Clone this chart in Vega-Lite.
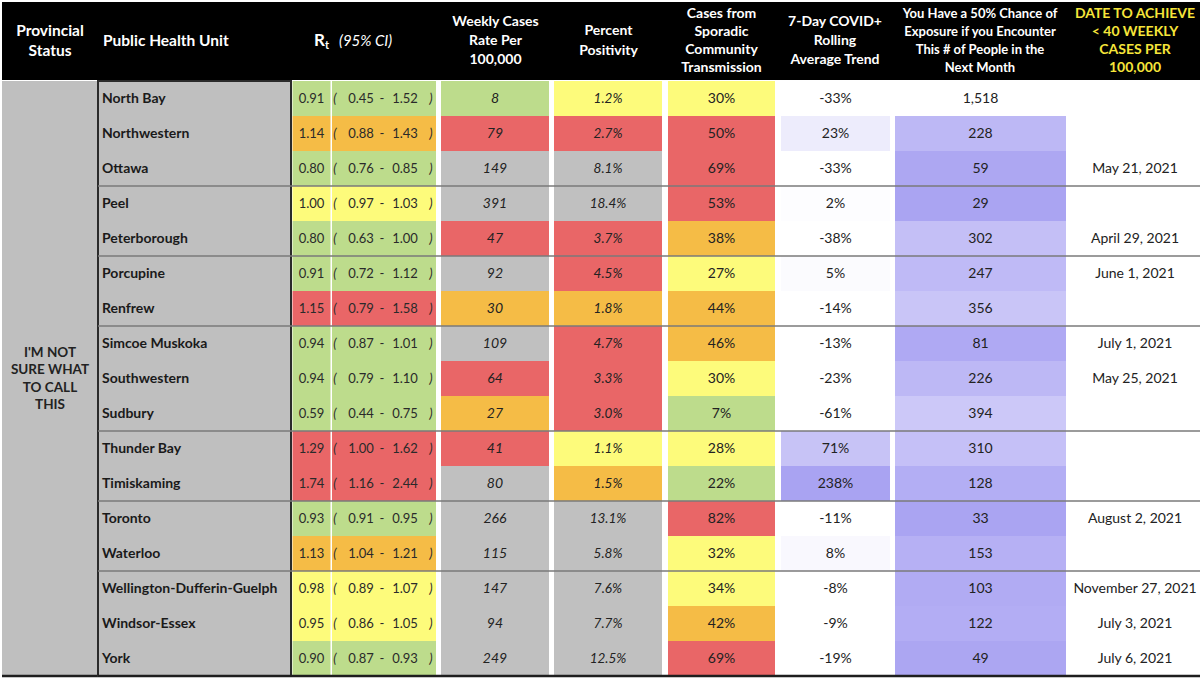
{
  "$schema": "https://vega.github.io/schema/vega-lite/v6.json",
  "padding": {"left": 0, "top": 2, "right": 0, "bottom": 0},
  "background": "#ffffff",
  "spacing": 0,
  "config": {"view": {"stroke": null}, "concat": {"spacing": 0}, "text": {"font": "Lato"},
    "locale": {"number": {"decimal": ".", "thousands": ",", "grouping": [3], "currency": ["$", ""], "minus": "-"}}},
  "data": {"values": [
    {"phu": "North Bay", "status": "I'M NOT\nSURE WHAT\nTO CALL\nTHIS", "grp": 1, "rt": 0.91, "lo": 0.45, "hi": 1.52, "weekly": 8, "pos": 0.012, "spor": 0.30, "trend": -0.33, "exp": 1518, "date": ""},
    {"phu": "Northwestern", "status": "I'M NOT\nSURE WHAT\nTO CALL\nTHIS", "grp": 1, "rt": 1.14, "lo": 0.88, "hi": 1.43, "weekly": 79, "pos": 0.027, "spor": 0.50, "trend": 0.23, "exp": 228, "date": ""},
    {"phu": "Ottawa", "status": "I'M NOT\nSURE WHAT\nTO CALL\nTHIS", "grp": 1, "rt": 0.80, "lo": 0.76, "hi": 0.85, "weekly": 149, "pos": 0.081, "spor": 0.69, "trend": -0.33, "exp": 59, "date": "May 21, 2021"},
    {"phu": "Peel", "status": "I'M NOT\nSURE WHAT\nTO CALL\nTHIS", "grp": 2, "rt": 1.00, "lo": 0.97, "hi": 1.03, "weekly": 391, "pos": 0.184, "spor": 0.53, "trend": 0.02, "exp": 29, "date": ""},
    {"phu": "Peterborough", "status": "I'M NOT\nSURE WHAT\nTO CALL\nTHIS", "grp": 2, "rt": 0.80, "lo": 0.63, "hi": 1.00, "weekly": 47, "pos": 0.037, "spor": 0.38, "trend": -0.38, "exp": 302, "date": "April 29, 2021"},
    {"phu": "Porcupine", "status": "I'M NOT\nSURE WHAT\nTO CALL\nTHIS", "grp": 3, "rt": 0.91, "lo": 0.72, "hi": 1.12, "weekly": 92, "pos": 0.045, "spor": 0.27, "trend": 0.05, "exp": 247, "date": "June 1, 2021"},
    {"phu": "Renfrew", "status": "I'M NOT\nSURE WHAT\nTO CALL\nTHIS", "grp": 3, "rt": 1.15, "lo": 0.79, "hi": 1.58, "weekly": 30, "pos": 0.018, "spor": 0.44, "trend": -0.14, "exp": 356, "date": ""},
    {"phu": "Simcoe Muskoka", "status": "I'M NOT\nSURE WHAT\nTO CALL\nTHIS", "grp": 4, "rt": 0.94, "lo": 0.87, "hi": 1.01, "weekly": 109, "pos": 0.047, "spor": 0.46, "trend": -0.13, "exp": 81, "date": "July 1, 2021"},
    {"phu": "Southwestern", "status": "I'M NOT\nSURE WHAT\nTO CALL\nTHIS", "grp": 4, "rt": 0.94, "lo": 0.79, "hi": 1.10, "weekly": 64, "pos": 0.033, "spor": 0.30, "trend": -0.23, "exp": 226, "date": "May 25, 2021"},
    {"phu": "Sudbury", "status": "I'M NOT\nSURE WHAT\nTO CALL\nTHIS", "grp": 4, "rt": 0.59, "lo": 0.44, "hi": 0.75, "weekly": 27, "pos": 0.030, "spor": 0.07, "trend": -0.61, "exp": 394, "date": ""},
    {"phu": "Thunder Bay", "status": "I'M NOT\nSURE WHAT\nTO CALL\nTHIS", "grp": 5, "rt": 1.29, "lo": 1.00, "hi": 1.62, "weekly": 41, "pos": 0.011, "spor": 0.28, "trend": 0.71, "exp": 310, "date": ""},
    {"phu": "Timiskaming", "status": "I'M NOT\nSURE WHAT\nTO CALL\nTHIS", "grp": 5, "rt": 1.74, "lo": 1.16, "hi": 2.44, "weekly": 80, "pos": 0.015, "spor": 0.22, "trend": 2.38, "exp": 128, "date": ""},
    {"phu": "Toronto", "status": "I'M NOT\nSURE WHAT\nTO CALL\nTHIS", "grp": 6, "rt": 0.93, "lo": 0.91, "hi": 0.95, "weekly": 266, "pos": 0.131, "spor": 0.82, "trend": -0.11, "exp": 33, "date": "August 2, 2021"},
    {"phu": "Waterloo", "status": "I'M NOT\nSURE WHAT\nTO CALL\nTHIS", "grp": 6, "rt": 1.13, "lo": 1.04, "hi": 1.21, "weekly": 115, "pos": 0.058, "spor": 0.32, "trend": 0.08, "exp": 153, "date": ""},
    {"phu": "Wellington-Dufferin-Guelph", "status": "I'M NOT\nSURE WHAT\nTO CALL\nTHIS", "grp": 7, "rt": 0.98, "lo": 0.89, "hi": 1.07, "weekly": 147, "pos": 0.076, "spor": 0.34, "trend": -0.08, "exp": 103, "date": "November 27, 2021"},
    {"phu": "Windsor-Essex", "status": "I'M NOT\nSURE WHAT\nTO CALL\nTHIS", "grp": 7, "rt": 0.95, "lo": 0.86, "hi": 1.05, "weekly": 94, "pos": 0.077, "spor": 0.42, "trend": -0.09, "exp": 122, "date": "July 3, 2021"},
    {"phu": "York", "status": "I'M NOT\nSURE WHAT\nTO CALL\nTHIS", "grp": 7, "rt": 0.90, "lo": 0.87, "hi": 0.93, "weekly": 249, "pos": 0.125, "spor": 0.69, "trend": -0.19, "exp": 49, "date": "July 6, 2021"}
  ]},
  "vconcat": [
    {
      "data": {"values": [{}]},
      "spacing": 0,
      "bounds": "flush",
      "hconcat": [
        {"width": 96, "height": 78, "view": {"fill": "#000000", "stroke": null},
         "mark": {"type": "text", "text": ["Provincial", "Status"], "color": "#ffffff", "fontWeight": "bold", "fontSize": 15.5, "lineHeight": 20, "align": "center", "baseline": "middle", "dy": -10}},
        {"width": 193, "height": 78, "view": {"fill": "#000000", "stroke": null},
         "mark": {"type": "text", "text": "Public Health Unit", "color": "#ffffff", "fontWeight": "bold", "fontSize": 15.5, "align": "left", "baseline": "middle"},
         "encoding": {"x": {"value": 5}}},
        {"width": 148, "height": 78, "view": {"fill": "#000000", "stroke": null},
         "layer": [
           {"mark": {"type": "text", "text": "R", "color": "#ffffff", "fontWeight": "bold", "fontSize": 17, "align": "left", "baseline": "middle", "dx": -51}},
           {"mark": {"type": "text", "text": "t", "color": "#ffffff", "fontWeight": "bold", "fontSize": 11, "align": "left", "baseline": "middle", "dx": -40, "dy": 5}},
           {"mark": {"type": "text", "text": "(95% CI)", "color": "#ffffff", "fontStyle": "italic", "fontSize": 15, "align": "left", "baseline": "middle", "dx": -26}}
         ]},
        {"width": 113, "height": 78, "view": {"fill": "#000000", "stroke": null},
         "mark": {"type": "text", "text": ["Weekly Cases", "Rate Per", "100,000"], "color": "#ffffff", "fontWeight": "bold", "fontSize": 14, "lineHeight": 19, "align": "center", "baseline": "middle", "dy": -19}},
        {"width": 113, "height": 78, "view": {"fill": "#000000", "stroke": null},
         "mark": {"type": "text", "text": ["Percent", "Positivity"], "color": "#ffffff", "fontWeight": "bold", "fontSize": 14, "lineHeight": 20, "align": "center", "baseline": "middle", "dy": -10}},
        {"width": 113, "height": 78, "view": {"fill": "#000000", "stroke": null},
         "mark": {"type": "text", "text": ["Cases from", "Sporadic", "Community", "Transmission"], "color": "#ffffff", "fontWeight": "bold", "fontSize": 14, "lineHeight": 18, "align": "center", "baseline": "middle", "dy": -27}},
        {"width": 114, "height": 78, "view": {"fill": "#000000", "stroke": null},
         "mark": {"type": "text", "text": ["7-Day COVID+", "Rolling", "Average Trend"], "color": "#ffffff", "fontWeight": "bold", "fontSize": 14, "lineHeight": 19, "align": "center", "baseline": "middle", "dy": -19}},
        {"width": 176, "height": 78, "view": {"fill": "#000000", "stroke": null},
         "mark": {"type": "text", "text": ["You Have a 50% Chance of", "Exposure if you Encounter", "This # of People in the", "Next Month"], "color": "#ffffff", "fontWeight": "bold", "fontSize": 13, "lineHeight": 18, "align": "center", "baseline": "middle", "dy": -27}},
        {"width": 134, "height": 78, "view": {"fill": "#000000", "stroke": null},
         "mark": {"type": "text", "text": ["DATE TO ACHIEVE", "< 40 WEEKLY", "CASES PER", "100,000"], "color": "#f6e53a", "fontWeight": "bold", "fontSize": 14, "lineHeight": 18, "align": "center", "baseline": "middle", "dy": -27}}
      ]
    },
    {
      "spacing": 0,
      "bounds": "flush",
      "hconcat": [
        {"width": 96, "height": 595, "view": {"fill": "#bfbfbf", "stroke": null},
         "layer": [
           {"transform": [{"aggregate": [{"op": "count", "as": "n"}], "groupby": ["status"]}],
            "mark": {"type": "text", "fontWeight": "bold", "fontSize": 13.5, "lineBreak": "\n", "lineHeight": 17.5, "color": "#222222", "align": "center", "baseline": "middle", "dy": -26},
            "encoding": {"text": {"field": "status", "type": "nominal"}}},
           {"transform": [{"filter": "datum.phu == 'York'"}],
            "mark": {"type": "rule", "color": "#1e1e1e", "strokeWidth": 2.5},
            "encoding": {"y": {"field": "phu", "type": "nominal", "bandPosition": 1, "axis": null, "scale": {"type": "band", "paddingInner": 0, "paddingOuter": 0}}}}
         ]},
        {"width": 193, "height": 595, "view": {"fill": "#bfbfbf", "stroke": "#2b2b2b", "strokeWidth": 2},
         "layer": [
           {"mark": {"type": "text", "fontWeight": "bold", "fontSize": 14, "color": "#1a1a1a", "align": "left", "baseline": "middle"},
            "encoding": {"x": {"value": 4}, "y": {"field": "phu", "type": "nominal", "axis": null, "scale": {"type": "band", "paddingInner": 0, "paddingOuter": 0}}, "text": {"field": "phu", "type": "nominal"}}},
           {"transform": [{"window": [{"op": "row_number", "as": "rn"}], "groupby": ["grp"]}, {"filter": "datum.rn == 1 && datum.grp > 1"}],
            "mark": {"type": "rule", "color": "#7a7a7a", "strokeWidth": 1.5},
            "encoding": {"y": {"field": "phu", "type": "nominal", "bandPosition": 0, "axis": null}}},
           {"transform": [{"filter": "datum.phu == 'York'"}],
            "mark": {"type": "rule", "color": "#1e1e1e", "strokeWidth": 2.5},
            "encoding": {"y": {"field": "phu", "type": "nominal", "bandPosition": 1, "axis": null}}}
         ]},
        {"width": 40, "height": 595,
         "layer": [
           {"mark": {"type": "rect"},
            "encoding": {
              "x": {"datum": "rt", "type": "nominal", "axis": null, "scale": {"type": "band", "paddingInner": 0, "paddingOuter": 0.0263, "align": 0.75}},
              "y": {"field": "phu", "type": "nominal", "axis": null, "scale": {"type": "band", "paddingInner": 0, "paddingOuter": 0}},
              "fill": {"field": "rt", "type": "quantitative", "legend": null, "scale": {"type": "threshold", "domain": [0.95, 1.05, 1.15], "range": ["#bddc8c", "#fdfb7b", "#f5bc46", "#e96667"]}}}},
           {"mark": {"type": "text", "fontSize": 13, "color": "#2a2a2a", "baseline": "middle"},
            "encoding": {"x": {"datum": "rt", "type": "nominal", "axis": null}, "y": {"field": "phu", "type": "nominal", "axis": null}, "text": {"field": "rt", "type": "quantitative", "format": ".2f"}}},
           {"transform": [{"window": [{"op": "row_number", "as": "rn"}], "groupby": ["grp"]}, {"filter": "datum.rn == 1 && datum.grp > 1"}],
            "mark": {"type": "rule", "color": "#7a7a7a", "strokeWidth": 1.5},
            "encoding": {"y": {"field": "phu", "type": "nominal", "bandPosition": 0, "axis": null}}},
           {"transform": [{"filter": "datum.phu == 'York'"}],
            "mark": {"type": "rule", "color": "#1e1e1e", "strokeWidth": 2.5},
            "encoding": {"y": {"field": "phu", "type": "nominal", "bandPosition": 1, "axis": null}}}
         ]},
        {"width": 108, "height": 595,
         "layer": [
           {"mark": {"type": "rect"},
            "encoding": {
              "x": {"datum": "ci", "type": "nominal", "axis": null, "scale": {"type": "band", "paddingInner": 0, "paddingOuter": 0.01923, "align": 0.25}},
              "y": {"field": "phu", "type": "nominal", "axis": null, "scale": {"type": "band", "paddingInner": 0, "paddingOuter": 0}},
              "fill": {"field": "rt", "type": "quantitative", "legend": null, "scale": {"type": "threshold", "domain": [0.95, 1.05, 1.15], "range": ["#bddc8c", "#fdfb7b", "#f5bc46", "#e96667"]}}}},
           {"mark": {"type": "text", "text": "(", "fontSize": 13, "fontStyle": "italic", "color": "#2a2a2a", "baseline": "middle", "dx": -49},
            "encoding": {"x": {"datum": "ci", "type": "nominal", "axis": null}, "y": {"field": "phu", "type": "nominal", "axis": null}}},
           {"mark": {"type": "text", "fontSize": 13, "color": "#2a2a2a", "baseline": "middle", "dx": -23},
            "encoding": {"x": {"datum": "ci", "type": "nominal", "axis": null}, "y": {"field": "phu", "type": "nominal", "axis": null}, "text": {"field": "lo", "type": "quantitative", "format": ".2f"}}},
           {"mark": {"type": "text", "text": "-", "fontSize": 13, "color": "#2a2a2a", "baseline": "middle", "dx": -2},
            "encoding": {"x": {"datum": "ci", "type": "nominal", "axis": null}, "y": {"field": "phu", "type": "nominal", "axis": null}}},
           {"mark": {"type": "text", "fontSize": 13, "color": "#2a2a2a", "baseline": "middle", "dx": 21},
            "encoding": {"x": {"datum": "ci", "type": "nominal", "axis": null}, "y": {"field": "phu", "type": "nominal", "axis": null}, "text": {"field": "hi", "type": "quantitative", "format": ".2f"}}},
           {"mark": {"type": "text", "text": ")", "fontSize": 13, "fontStyle": "italic", "color": "#2a2a2a", "baseline": "middle", "dx": 47},
            "encoding": {"x": {"datum": "ci", "type": "nominal", "axis": null}, "y": {"field": "phu", "type": "nominal", "axis": null}}},
           {"transform": [{"window": [{"op": "row_number", "as": "rn"}], "groupby": ["grp"]}, {"filter": "datum.rn == 1 && datum.grp > 1"}],
            "mark": {"type": "rule", "color": "#7a7a7a", "strokeWidth": 1.5},
            "encoding": {"y": {"field": "phu", "type": "nominal", "bandPosition": 0, "axis": null}}},
           {"transform": [{"filter": "datum.phu == 'York'"}],
            "mark": {"type": "rule", "color": "#1e1e1e", "strokeWidth": 2.5},
            "encoding": {"y": {"field": "phu", "type": "nominal", "bandPosition": 1, "axis": null}}}
         ]},
        {"width": 113, "height": 595,
         "layer": [
           {"mark": {"type": "rect"},
            "encoding": {
              "x": {"datum": "weekly", "type": "nominal", "axis": null, "scale": {"type": "band", "paddingInner": 0, "paddingOuter": 0.02315, "align": 0.4}},
              "y": {"field": "phu", "type": "nominal", "axis": null, "scale": {"type": "band", "paddingInner": 0, "paddingOuter": 0}},
              "fill": {"field": "weekly", "type": "quantitative", "legend": null, "scale": {"type": "threshold", "domain": [10, 25, 40, 80], "range": ["#bddc8c", "#fdfb7b", "#f5bc46", "#e96667", "#c0c0c0"]}}}},
           {"mark": {"type": "text", "fontSize": 14, "fontStyle": "italic", "color": "#222222", "baseline": "middle"},
            "encoding": {"x": {"datum": "weekly", "type": "nominal", "axis": null}, "y": {"field": "phu", "type": "nominal", "axis": null}, "text": {"field": "weekly", "type": "quantitative", "format": "d"}}},
           {"transform": [{"window": [{"op": "row_number", "as": "rn"}], "groupby": ["grp"]}, {"filter": "datum.rn == 1 && datum.grp > 1"}],
            "mark": {"type": "rule", "color": "#7a7a7a", "strokeWidth": 1.5},
            "encoding": {"y": {"field": "phu", "type": "nominal", "bandPosition": 0, "axis": null}}},
           {"transform": [{"filter": "datum.phu == 'York'"}],
            "mark": {"type": "rule", "color": "#1e1e1e", "strokeWidth": 2.5},
            "encoding": {"y": {"field": "phu", "type": "nominal", "bandPosition": 1, "axis": null}}}
         ]},
        {"width": 113, "height": 595,
         "layer": [
           {"mark": {"type": "rect"},
            "encoding": {
              "x": {"datum": "pos", "type": "nominal", "axis": null, "scale": {"type": "band", "paddingInner": 0, "paddingOuter": 0.02315, "align": 0.4}},
              "y": {"field": "phu", "type": "nominal", "axis": null, "scale": {"type": "band", "paddingInner": 0, "paddingOuter": 0}},
              "fill": {"field": "pos", "type": "quantitative", "legend": null, "scale": {"type": "threshold", "domain": [0.005, 0.013, 0.025, 0.05], "range": ["#bddc8c", "#fdfb7b", "#f5bc46", "#e96667", "#c0c0c0"]}}}},
           {"mark": {"type": "text", "fontSize": 13.5, "fontStyle": "italic", "color": "#222222", "baseline": "middle"},
            "encoding": {"x": {"datum": "pos", "type": "nominal", "axis": null}, "y": {"field": "phu", "type": "nominal", "axis": null}, "text": {"field": "pos", "type": "quantitative", "format": ".1%"}}},
           {"transform": [{"window": [{"op": "row_number", "as": "rn"}], "groupby": ["grp"]}, {"filter": "datum.rn == 1 && datum.grp > 1"}],
            "mark": {"type": "rule", "color": "#7a7a7a", "strokeWidth": 1.5},
            "encoding": {"y": {"field": "phu", "type": "nominal", "bandPosition": 0, "axis": null}}},
           {"transform": [{"filter": "datum.phu == 'York'"}],
            "mark": {"type": "rule", "color": "#1e1e1e", "strokeWidth": 2.5},
            "encoding": {"y": {"field": "phu", "type": "nominal", "bandPosition": 1, "axis": null}}}
         ]},
        {"width": 113, "height": 595,
         "layer": [
           {"mark": {"type": "rect"},
            "encoding": {
              "x": {"datum": "spor", "type": "nominal", "axis": null, "scale": {"type": "band", "paddingInner": 0, "paddingOuter": 0.028, "align": 0.5}},
              "y": {"field": "phu", "type": "nominal", "axis": null, "scale": {"type": "band", "paddingInner": 0, "paddingOuter": 0}},
              "fill": {"field": "spor", "type": "quantitative", "legend": null, "scale": {"type": "threshold", "domain": [0.25, 0.35, 0.5], "range": ["#bddc8c", "#fdfb7b", "#f5bc46", "#e96667"]}}}},
           {"mark": {"type": "text", "fontSize": 14, "color": "#222222", "baseline": "middle"},
            "encoding": {"x": {"datum": "spor", "type": "nominal", "axis": null}, "y": {"field": "phu", "type": "nominal", "axis": null}, "text": {"field": "spor", "type": "quantitative", "format": ".0%"}}},
           {"transform": [{"window": [{"op": "row_number", "as": "rn"}], "groupby": ["grp"]}, {"filter": "datum.rn == 1 && datum.grp > 1"}],
            "mark": {"type": "rule", "color": "#7a7a7a", "strokeWidth": 1.5},
            "encoding": {"y": {"field": "phu", "type": "nominal", "bandPosition": 0, "axis": null}}},
           {"transform": [{"filter": "datum.phu == 'York'"}],
            "mark": {"type": "rule", "color": "#1e1e1e", "strokeWidth": 2.5},
            "encoding": {"y": {"field": "phu", "type": "nominal", "bandPosition": 1, "axis": null}}}
         ]},
        {"width": 114, "height": 595,
         "layer": [
           {"mark": {"type": "rect"},
            "encoding": {
              "x": {"datum": "trend", "type": "nominal", "axis": null, "scale": {"type": "band", "paddingInner": 0, "paddingOuter": 0.02294, "align": 0.6}},
              "y": {"field": "phu", "type": "nominal", "axis": null, "scale": {"type": "band", "paddingInner": 0, "paddingOuter": 0}},
              "fill": {"field": "trend", "type": "quantitative", "legend": null, "scale": {"type": "linear", "domain": [0, 0.71, 2.38], "range": ["#ffffff", "#c7c3f6", "#a9a3f2"], "clamp": true, "interpolate": "rgb"}}}},
           {"mark": {"type": "text", "fontSize": 14, "color": "#222222", "baseline": "middle"},
            "encoding": {"x": {"datum": "trend", "type": "nominal", "axis": null}, "y": {"field": "phu", "type": "nominal", "axis": null}, "text": {"field": "trend", "type": "quantitative", "format": ".0%"}}},
           {"transform": [{"window": [{"op": "row_number", "as": "rn"}], "groupby": ["grp"]}, {"filter": "datum.rn == 1 && datum.grp > 1"}],
            "mark": {"type": "rule", "color": "#7a7a7a", "strokeWidth": 1.5},
            "encoding": {"y": {"field": "phu", "type": "nominal", "bandPosition": 0, "axis": null}}},
           {"transform": [{"filter": "datum.phu == 'York'"}],
            "mark": {"type": "rule", "color": "#1e1e1e", "strokeWidth": 2.5},
            "encoding": {"y": {"field": "phu", "type": "nominal", "bandPosition": 1, "axis": null}}}
         ]},
        {"width": 176, "height": 595,
         "layer": [
           {"mark": {"type": "rect"},
            "encoding": {
              "x": {"datum": "exp", "type": "nominal", "axis": null, "scale": {"type": "band", "paddingInner": 0, "paddingOuter": 0.01462, "align": 0.6}},
              "y": {"field": "phu", "type": "nominal", "axis": null, "scale": {"type": "band", "paddingInner": 0, "paddingOuter": 0}},
              "fill": {"field": "exp", "type": "quantitative", "legend": null, "scale": {"type": "linear", "domain": [29, 400, 1518], "range": ["#aaa4f2", "#cdc9f8", "#ffffff"], "clamp": true, "interpolate": "rgb"}}}},
           {"mark": {"type": "text", "fontSize": 14, "color": "#222222", "baseline": "middle"},
            "encoding": {"x": {"datum": "exp", "type": "nominal", "axis": null}, "y": {"field": "phu", "type": "nominal", "axis": null}, "text": {"field": "exp", "type": "quantitative", "format": ","}}},
           {"transform": [{"window": [{"op": "row_number", "as": "rn"}], "groupby": ["grp"]}, {"filter": "datum.rn == 1 && datum.grp > 1"}],
            "mark": {"type": "rule", "color": "#7a7a7a", "strokeWidth": 1.5},
            "encoding": {"y": {"field": "phu", "type": "nominal", "bandPosition": 0, "axis": null}}},
           {"transform": [{"filter": "datum.phu == 'York'"}],
            "mark": {"type": "rule", "color": "#1e1e1e", "strokeWidth": 2.5},
            "encoding": {"y": {"field": "phu", "type": "nominal", "bandPosition": 1, "axis": null}}}
         ]},
        {"width": 134, "height": 595,
         "layer": [
           {"mark": {"type": "text", "fontSize": 14, "color": "#222222", "baseline": "middle", "align": "center"},
            "encoding": {"x": {"datum": "date", "type": "nominal", "axis": null}, "y": {"field": "phu", "type": "nominal", "axis": null, "scale": {"type": "band", "paddingInner": 0, "paddingOuter": 0}}, "text": {"field": "date", "type": "nominal"}}},
           {"transform": [{"window": [{"op": "row_number", "as": "rn"}], "groupby": ["grp"]}, {"filter": "datum.rn == 1 && datum.grp > 1"}],
            "mark": {"type": "rule", "color": "#7a7a7a", "strokeWidth": 1.5},
            "encoding": {"y": {"field": "phu", "type": "nominal", "bandPosition": 0, "axis": null}}},
           {"transform": [{"filter": "datum.phu == 'York'"}],
            "mark": {"type": "rule", "color": "#1e1e1e", "strokeWidth": 2.5},
            "encoding": {"y": {"field": "phu", "type": "nominal", "bandPosition": 1, "axis": null}}}
         ]}
      ]
    }
  ]
}
